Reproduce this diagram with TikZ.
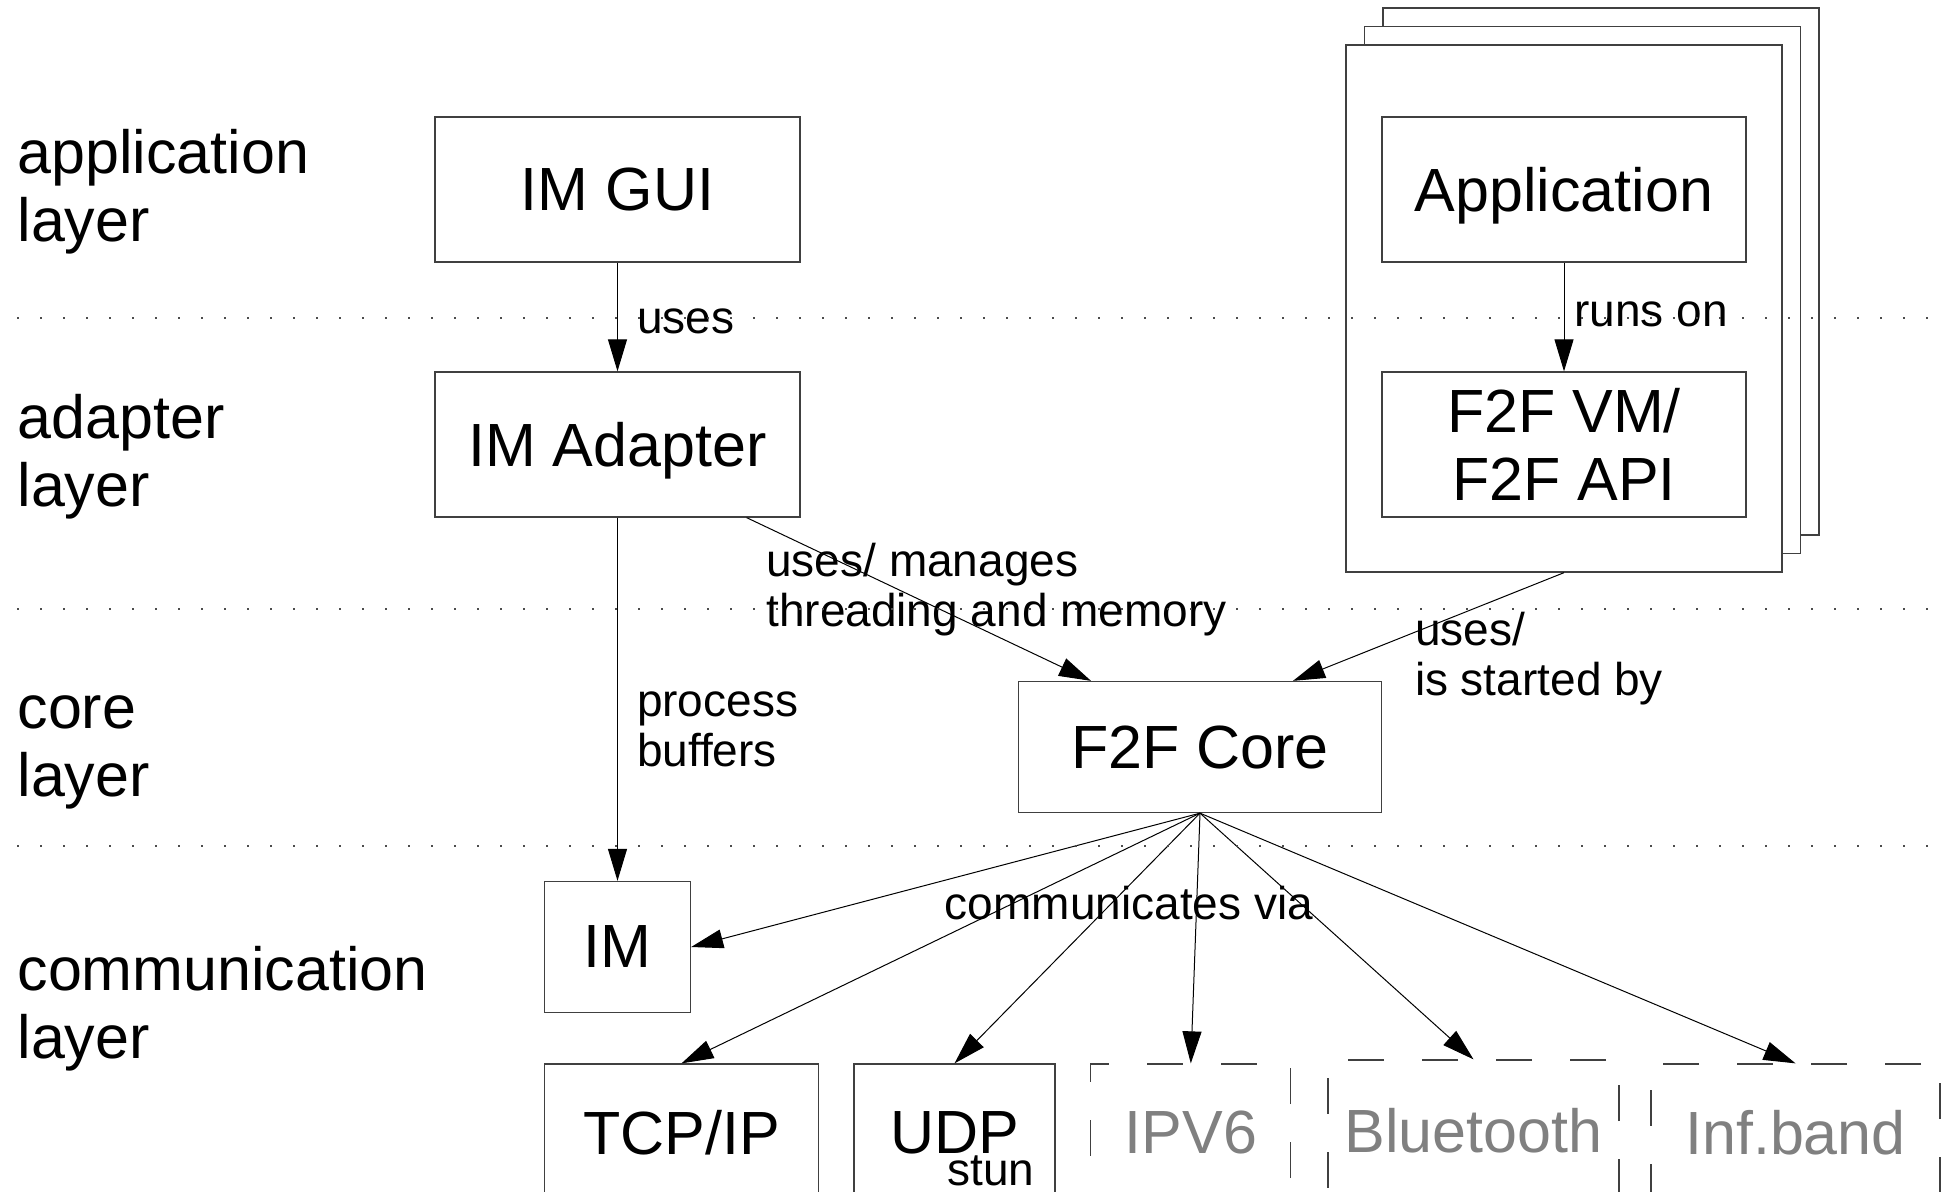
\documentclass[tikz,border=0pt]{standalone}
\usepackage{fontspec}
\setmainfont{Liberation Sans}
\usetikzlibrary{arrows.meta,calc}

\begin{document}
\begin{tikzpicture}[x=1pt,y=-1pt,->,>={Triangle[length=32pt,width=19pt]},line width=1pt,
  box/.style={draw=black!75,line width=1.3pt,fill=white,inner sep=0pt,align=center,text depth=0pt,font=\fontsize{61}{68}\selectfont},
  commbox/.style={box,dash pattern=on 36pt off 38pt,text=black!50},
  page/.style={draw=black!75,line width=1.3pt,fill=white,minimum width=436pt,minimum height=527pt},
  layer/.style={anchor=west,inner sep=0pt,align=left,font=\fontsize{61}{68}\selectfont},
  lbl/.style={anchor=west,inner sep=0pt,align=left,font=\fontsize{46}{50}\selectfont},
  sep/.style={-,draw=black!70,line width=1.6pt,dash pattern=on 1.6pt off 21.4pt}]
  \clip (0,0) rectangle (1950,1191);

  % layer names
  \node[layer] (lapp) at (17,191.5) {application\\layer};
  \node[layer] (ladp) at (17,457) {adapter\\layer};
  \node[layer] (lcore) at (17,752) {core\\layer};
  \node[layer] (lcomm) at (17,1009) {communication\\layer};

  % stacked pages
  \node[page] (page3) at (1601,271.5) {};
  \node[page] (page2) at (1582.5,290) {};
  \node[page] (page1) at (1564,308.5) {};

  \node[box,minimum width=365pt,minimum height=145pt] (gui) at (617.5,189.5) {IM GUI};
  \node[box,minimum width=365pt,minimum height=145pt] (adapter) at (617.5,444.5) {IM Adapter};
  \node[box,minimum width=364pt,minimum height=145pt] (app) at (1564,189.5) {Application};
  \node[box,minimum width=364pt,minimum height=145pt] (vm) at (1564,444.5) {F2F VM/\\F2F API};
  \node[box,minimum width=363pt,minimum height=131pt] (core) at (1200,747) {F2F Core};
  \node[box,minimum width=146pt,minimum height=131pt] (im) at (617.5,947) {IM};

  % communication
  \node[box,minimum width=274pt,minimum height=136pt] (tcp) at (681.5,1132) {TCP/IP};
  \node[box,minimum width=201pt,minimum height=136pt] (udp) at (954.5,1132) {UDP};
  \node[lbl,anchor=east] (stun) at (1035,1171) {stun};
  \node[commbox,minimum width=200pt,minimum height=136pt] (ipv6) at (1190.8,1132) {IPV6};
  \node[commbox,minimum width=291pt,minimum height=140pt] (bt) at (1473.5,1130) {Bluetooth};
  \node[commbox,minimum width=289pt,minimum height=136pt] (inf) at (1795.5,1132) {Inf.band};
  \node[lbl,anchor=center] (via) at (1129,903) {communicates via};

\path[every node/.style={lbl}]
  (gui) edge node[xshift=19pt,yshift=-4pt] {uses} (adapter)
  (app) edge node[xshift=10pt,yshift=3pt] {runs on} (vm)
  ($(adapter.south east)+(-54,0)$) edge node[xshift=-153pt,yshift=10pt] {uses/ manages\\threading and memory} ($(core.north)+(-109,0)$)
  (page1.south) edge node[xshift=-14pt,yshift=-32pt] {uses/\\is started by} ($(core.north)+(93,0)$)
  (adapter) edge node[xshift=19pt,yshift=-30pt] {process\\buffers} (im)
  (core.south) edge (im.east)
  (core.south) edge (tcp.north)
  (core.south) edge (udp.north)
  (core.south) edge (ipv6.north)
  (core.south) edge (bt.north)
  (core.south) edge (inf.north)
;

  % layer borders
  \draw[sep] (17,318) -- (1940,318);
  \draw[sep] (17,609) -- (1940,609);
  \draw[sep] (17,846) -- (1940,846);
\end{tikzpicture}
\end{document}
